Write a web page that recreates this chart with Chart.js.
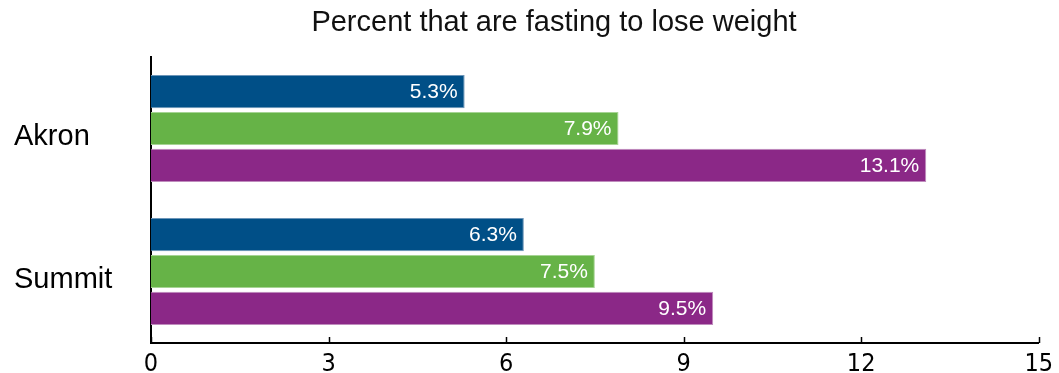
<!DOCTYPE html>
<html>
<head>
<meta charset="utf-8">
<script src="https://cdn.jsdelivr.net/npm/chart.js@4"></script>
<style>
  html, body { margin: 0; padding: 0; background: #fff; }
  #wrap { width: 1059px; height: 373px; }
</style>
</head>
<body>
<div id="wrap"><canvas id="my-chart" width="1059" height="373"></canvas></div>
<script>
const titleText = 'Percent that are fasting to lose weight';
const places = ['Akron', 'Summit'];
const blueValues = [5.3, 6.3];
const greenValues = [7.9, 7.5];
const purpleValues = [13.1, 9.5];
const xTicks = [0, 3, 6, 9, 12, 15];

// title sits a little right of the canvas centre in the original
const chartTitle = {
  id: 'chartTitle',
  afterDraw(chart) {
    const ctx = chart.ctx;
    ctx.save();
    ctx.fillStyle = '#111';
    ctx.font = '29px "Liberation Sans", Arial, sans-serif';
    ctx.textAlign = 'center';
    ctx.textBaseline = 'middle';
    ctx.fillText(titleText, 554, 23);
    ctx.restore();
  }
};

// white value labels inside the end of each bar
const barLabels = {
  id: 'barLabels',
  afterDatasetsDraw(chart) {
    const ctx = chart.ctx;
    ctx.save();
    ctx.fillStyle = '#ffffff';
    ctx.font = '21px "Liberation Sans", Arial, sans-serif';
    ctx.textAlign = 'right';
    ctx.textBaseline = 'middle';
    chart.data.datasets.forEach((ds, i) => {
      chart.getDatasetMeta(i).data.forEach((bar, j) => {
        ctx.fillText(ds.data[j].toFixed(1) + '%', bar.x - 7, bar.y + 1);
      });
    });
    ctx.restore();
  }
};

// short tick marks pointing up from the x axis
const innerTicks = {
  id: 'innerTicks',
  afterDraw(chart) {
    const ctx = chart.ctx;
    const x = chart.scales.x;
    const bottom = chart.chartArea.bottom;
    ctx.save();
    ctx.strokeStyle = '#000';
    ctx.lineWidth = 1.5;
    xTicks.forEach(v => {
      const px = Math.round(x.getPixelForValue(v)) + 0.5;
      ctx.beginPath();
      ctx.moveTo(px, bottom);
      ctx.lineTo(px, bottom - 6);
      ctx.stroke();
    });
    ctx.restore();
  }
};

const ctx = document.getElementById('my-chart').getContext('2d');

const chart = new Chart(ctx, {
  type: 'bar',
  data: {
    labels: places,
    datasets: [
      { data: blueValues, backgroundColor: '#004f87', borderColor: '#6c95b8', borderWidth: 1 },
      { data: greenValues, backgroundColor: '#66b347', borderColor: '#a6d494', borderWidth: 1 },
      { data: purpleValues, backgroundColor: '#8b2887', borderColor: '#bf8cbd', borderWidth: 1 }
    ]
  },
  options: {
    indexAxis: 'y',
    responsive: false,
    animation: false,
    devicePixelRatio: 1,
    categoryPercentage: 0.775,
    barPercentage: 0.9,
    layout: { padding: { left: 14, right: 18, top: 57, bottom: 0 } },
    plugins: {
      legend: { display: false },
      tooltip: { enabled: false },
      title: { display: false }
    },
    scales: {
      x: {
        min: 0,
        max: 15,
        afterBuildTicks: axis => { axis.ticks = xTicks.map(v => ({ value: v })); },
        afterFit: axis => { axis.height = 30; },
        grid: { display: false, drawTicks: false },
        border: { display: true, color: '#000', width: 2 },
        ticks: {
          color: '#000',
          padding: 6,
          maxRotation: 0,
          font: { family: '"Liberation Sans Narrow", "DejaVu Sans Condensed", sans-serif', size: 25 }
        }
      },
      y: {
        grid: { display: false, drawTicks: false },
        border: { display: true, color: '#000', width: 2 },
        afterFit: axis => { axis.width = 137; },
        ticks: {
          color: '#000',
          crossAlign: 'far',
          padding: 10,
          labelOffset: 8,
          font: { family: '"Liberation Sans", Arial, sans-serif', size: 29 }
        }
      }
    }
  },
  plugins: [barLabels, innerTicks, chartTitle]
});
</script>
</body>
</html>
